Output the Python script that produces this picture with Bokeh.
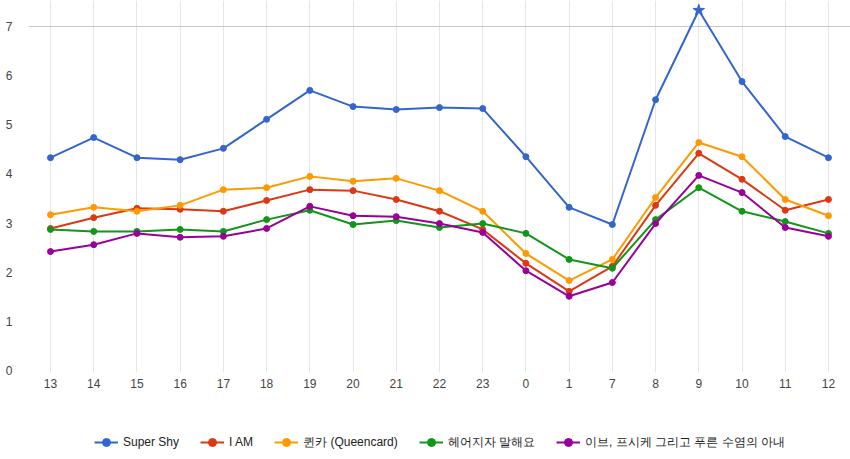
from bokeh.plotting import figure
from bokeh.layouts import column
from bokeh.models import (ColumnDataSource, Range1d, FixedTicker, Legend, CDSView,
                          IndexFilter, SingleIntervalTicker)
from bokeh.embed import file_html
from bokeh.resources import INLINE

hours = ["13", "14", "15", "16", "17", "18", "19", "20", "21", "22", "23",
         "0", "1", "7", "8", "9", "10", "11", "12"]

super_shy = [4.33, 4.74, 4.33, 4.29, 4.52, 5.11, 5.70, 5.37, 5.31, 5.35, 5.33,
             4.35, 3.32, 2.97, 5.51, 7.33, 5.88, 4.76, 4.33]
i_am = [2.89, 3.11, 3.30, 3.28, 3.24, 3.46, 3.68, 3.66, 3.48, 3.24, 2.87,
        2.18, 1.61, 2.12, 3.36, 4.42, 3.89, 3.26, 3.48]
queencard = [3.17, 3.32, 3.24, 3.36, 3.68, 3.72, 3.95, 3.85, 3.91, 3.66, 3.24,
             2.38, 1.83, 2.26, 3.52, 4.64, 4.35, 3.48, 3.15]
breakup = [2.87, 2.83, 2.83, 2.87, 2.83, 3.07, 3.26, 2.97, 3.05, 2.91, 2.99,
           2.79, 2.26, 2.08, 3.07, 3.72, 3.24, 3.03, 2.79]
eve = [2.42, 2.56, 2.79, 2.71, 2.73, 2.89, 3.34, 3.15, 3.13, 2.99, 2.81,
       2.03, 1.51, 1.79, 2.99, 3.97, 3.62, 2.91, 2.73]

series_names = ["Super Shy", "I AM", "퀸카 (Queencard)", "헤어지자 말해요",
                "이브, 프시케 그리고 푸른 수염의 아내"]
series_values = [super_shy, i_am, queencard, breakup, eve]
colors = ["#3366cc", "#dc3912", "#ff9900", "#109618", "#990099"]
star_index = 15  # emphasised point of Super Shy

FONT = "Liberation Sans"

p = figure(width=850, height=400, output_backend="svg", toolbar_location=None,
           x_range=Range1d(-0.509, 18.510), y_range=Range1d(-0.041, 7.529),
           min_border_left=28, min_border_right=0, min_border_top=0,
           min_border_bottom=28)
p.outline_line_color = None
p.background_fill_color = "white"
p.border_fill_color = "white"

x = list(range(len(hours)))

p.xaxis.ticker = FixedTicker(ticks=x)
p.xaxis.major_label_overrides = {i: h for i, h in enumerate(hours)}
p.yaxis.ticker = SingleIntervalTicker(interval=1)
for ax in (p.xaxis, p.yaxis):
    ax.axis_line_color = None
    ax.major_tick_line_color = None
    ax.minor_tick_line_color = None
    ax.major_tick_out = 0
    ax.major_tick_in = 0
    ax.major_label_text_font = FONT
    ax.major_label_text_font_size = "12px"
    ax.major_label_text_color = "#444444"
p.yaxis.major_label_standoff = 12
p.xaxis.major_label_standoff = 6

p.xgrid.grid_line_color = "#e6e6e6"
p.xgrid.grid_line_width = 1
p.ygrid.ticker = FixedTicker(ticks=[7])
p.ygrid.grid_line_color = "#c8c8c8"
p.ygrid.grid_line_width = 1

# legend strip below the chart (its ranges keep the series out of view,
# only the legend swatches are shown)
lg = figure(width=850, height=59, output_backend="svg", toolbar_location=None,
            x_axis_type=None, y_axis_type=None, min_border=0,
            x_range=Range1d(-10, -9), y_range=Range1d(-10, -9))
lg.outline_line_color = None
lg.xgrid.visible = False
lg.ygrid.visible = False

items = []
for name, vals, col in zip(series_names, series_values, colors):
    src = ColumnDataSource(dict(x=x, y=vals))
    p.line("x", "y", source=src, line_color=col, line_width=2)
    if name == "Super Shy":
        idx = [i for i in x if i != star_index]
        p.scatter("x", "y", source=src, view=CDSView(filter=IndexFilter(idx)),
                  size=6, fill_color=col, line_color=col, marker="circle")
        p.scatter("x", "y", source=src,
                  view=CDSView(filter=IndexFilter([star_index])),
                  size=12, fill_color=col, line_color=col, marker="star")
    else:
        p.scatter("x", "y", source=src, size=6, fill_color=col,
                  line_color=col, marker="circle")
    l1 = lg.line("x", "y", source=src, line_color=col, line_width=2)
    l2 = lg.scatter("x", "y", source=src, size=4, fill_color=col,
                    line_color=col, marker="circle")
    items.append((name, [l1, l2]))

legend = Legend(items=items, orientation="horizontal", location=(66, 7),
                glyph_width=24, glyph_height=20, label_standoff=5, spacing=21,
                label_text_font=FONT, label_text_font_size="12px",
                label_text_color="#222222", border_line_color=None,
                background_fill_alpha=0, padding=0, margin=0)
lg.add_layout(legend)

open("out.html", "w").write(file_html(column(p, lg, spacing=0), INLINE))
